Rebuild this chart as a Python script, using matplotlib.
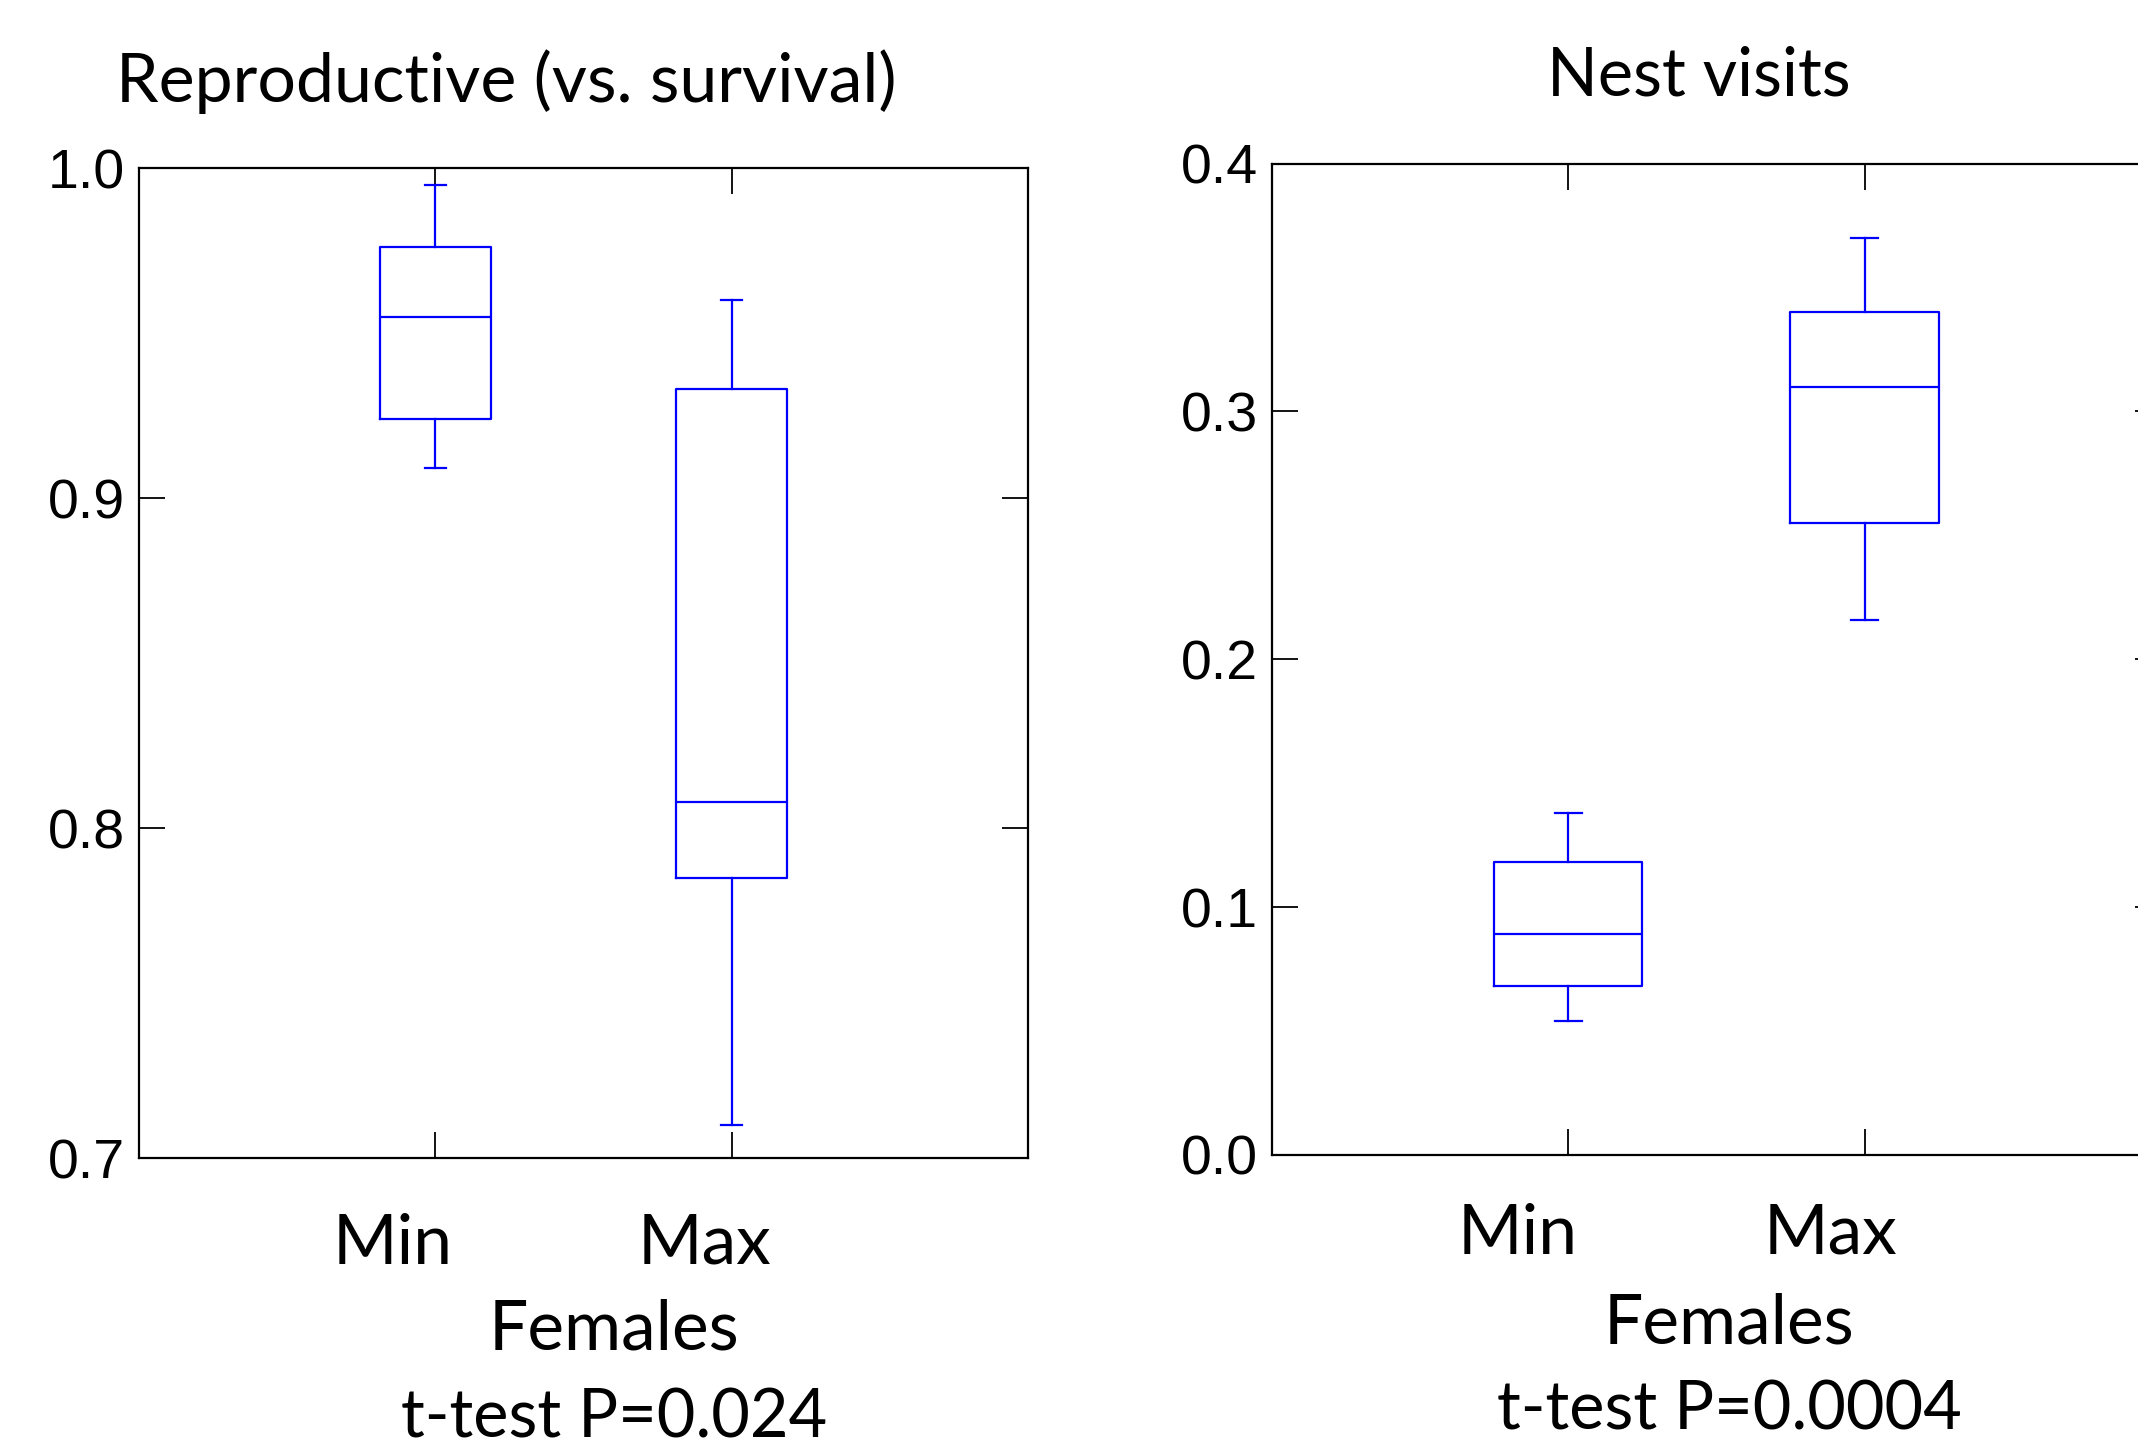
import matplotlib
matplotlib.use("Agg")
import matplotlib.pyplot as plt

# box stats: whislo, q1, med, q3, whishi
groups = ["Min", "Max"]
repro_lo = [0.909, 0.710]
repro_q1 = [0.924, 0.785]
repro_med = [0.955, 0.808]
repro_q3 = [0.976, 0.933]
repro_hi = [0.995, 0.960]

nest_lo = [0.054, 0.216]
nest_q1 = [0.068, 0.255]
nest_med = [0.089, 0.310]
nest_q3 = [0.118, 0.340]
nest_hi = [0.138, 0.370]

repro_ticks = [0.7, 0.8, 0.9, 1.0]
nest_ticks = [0.0, 0.1, 0.2, 0.3, 0.4]

BLUE = "#0000ff"
TEXT_FONT = ["Lato", "DejaVu Sans"]
TICK_FONT = ["Liberation Sans Narrow", "Liberation Sans", "DejaVu Sans"]


def stats(lo, q1, med, q3, hi):
    return [dict(whislo=a, q1=b, med=c, q3=d, whishi=e, fliers=[])
            for a, b, c, d, e in zip(lo, q1, med, q3, hi)]


def panel(ax, st, width, capw, ylim, yticks):
    props = dict(color=BLUE, linewidth=1.6)
    ax.bxp(st, positions=[1, 2], widths=width, capwidths=capw,
           showfliers=False, boxprops=props, whiskerprops=props,
           capprops=props, medianprops=props)
    ax.set_xlim(0, 3)
    ax.set_ylim(*ylim)
    ax.set_xticks([1, 2])
    ax.set_xticklabels([])
    ax.set_yticks(yticks)
    ax.set_yticklabels(["%.1f" % t for t in yticks], family=TICK_FONT, fontsize=40)
    ax.tick_params(direction="in", length=19, width=1.3, top=True, right=True,
                   pad=10)
    for s in ax.spines.values():
        s.set_linewidth(1.6)


fig = plt.figure(figsize=(21.38, 14.51), dpi=100)
ax1 = fig.add_axes([0.0650, 0.2019, 0.4158, 0.6823])
ax2 = fig.add_axes([0.5949, 0.2041, 0.4158, 0.6831])

panel(ax1, stats(repro_lo, repro_q1, repro_med, repro_q3, repro_hi),
      0.375, 0.07, (0.7, 1.0), repro_ticks)
panel(ax2, stats(nest_lo, nest_q1, nest_med, nest_q3, nest_hi),
      0.5, 0.09, (0.0, 0.4), nest_ticks)

W, H = 2138.0, 1451.0


def ftext(x, y, s, size):
    fig.text(x / W, 1 - y / H, s, ha="center", va="baseline",
             family=TEXT_FONT, fontsize=size)


ftext(506, 102, "Reproductive (vs. survival)", 49)
ftext(1699, 95, "Nest visits", 48)

ftext(393, 1264, groups[0], 50)
ftext(705, 1264, groups[1], 50)
ftext(614, 1350, "Females", 50)
ftext(614, 1438, "t-test P=0.024", 48)

ftext(1518, 1254, groups[0], 50)
ftext(1831, 1254, groups[1], 50)
ftext(1729, 1343, "Females", 50)
ftext(1729, 1429, "t-test P=0.0004", 48)

fig.savefig("out.png", dpi=100)
